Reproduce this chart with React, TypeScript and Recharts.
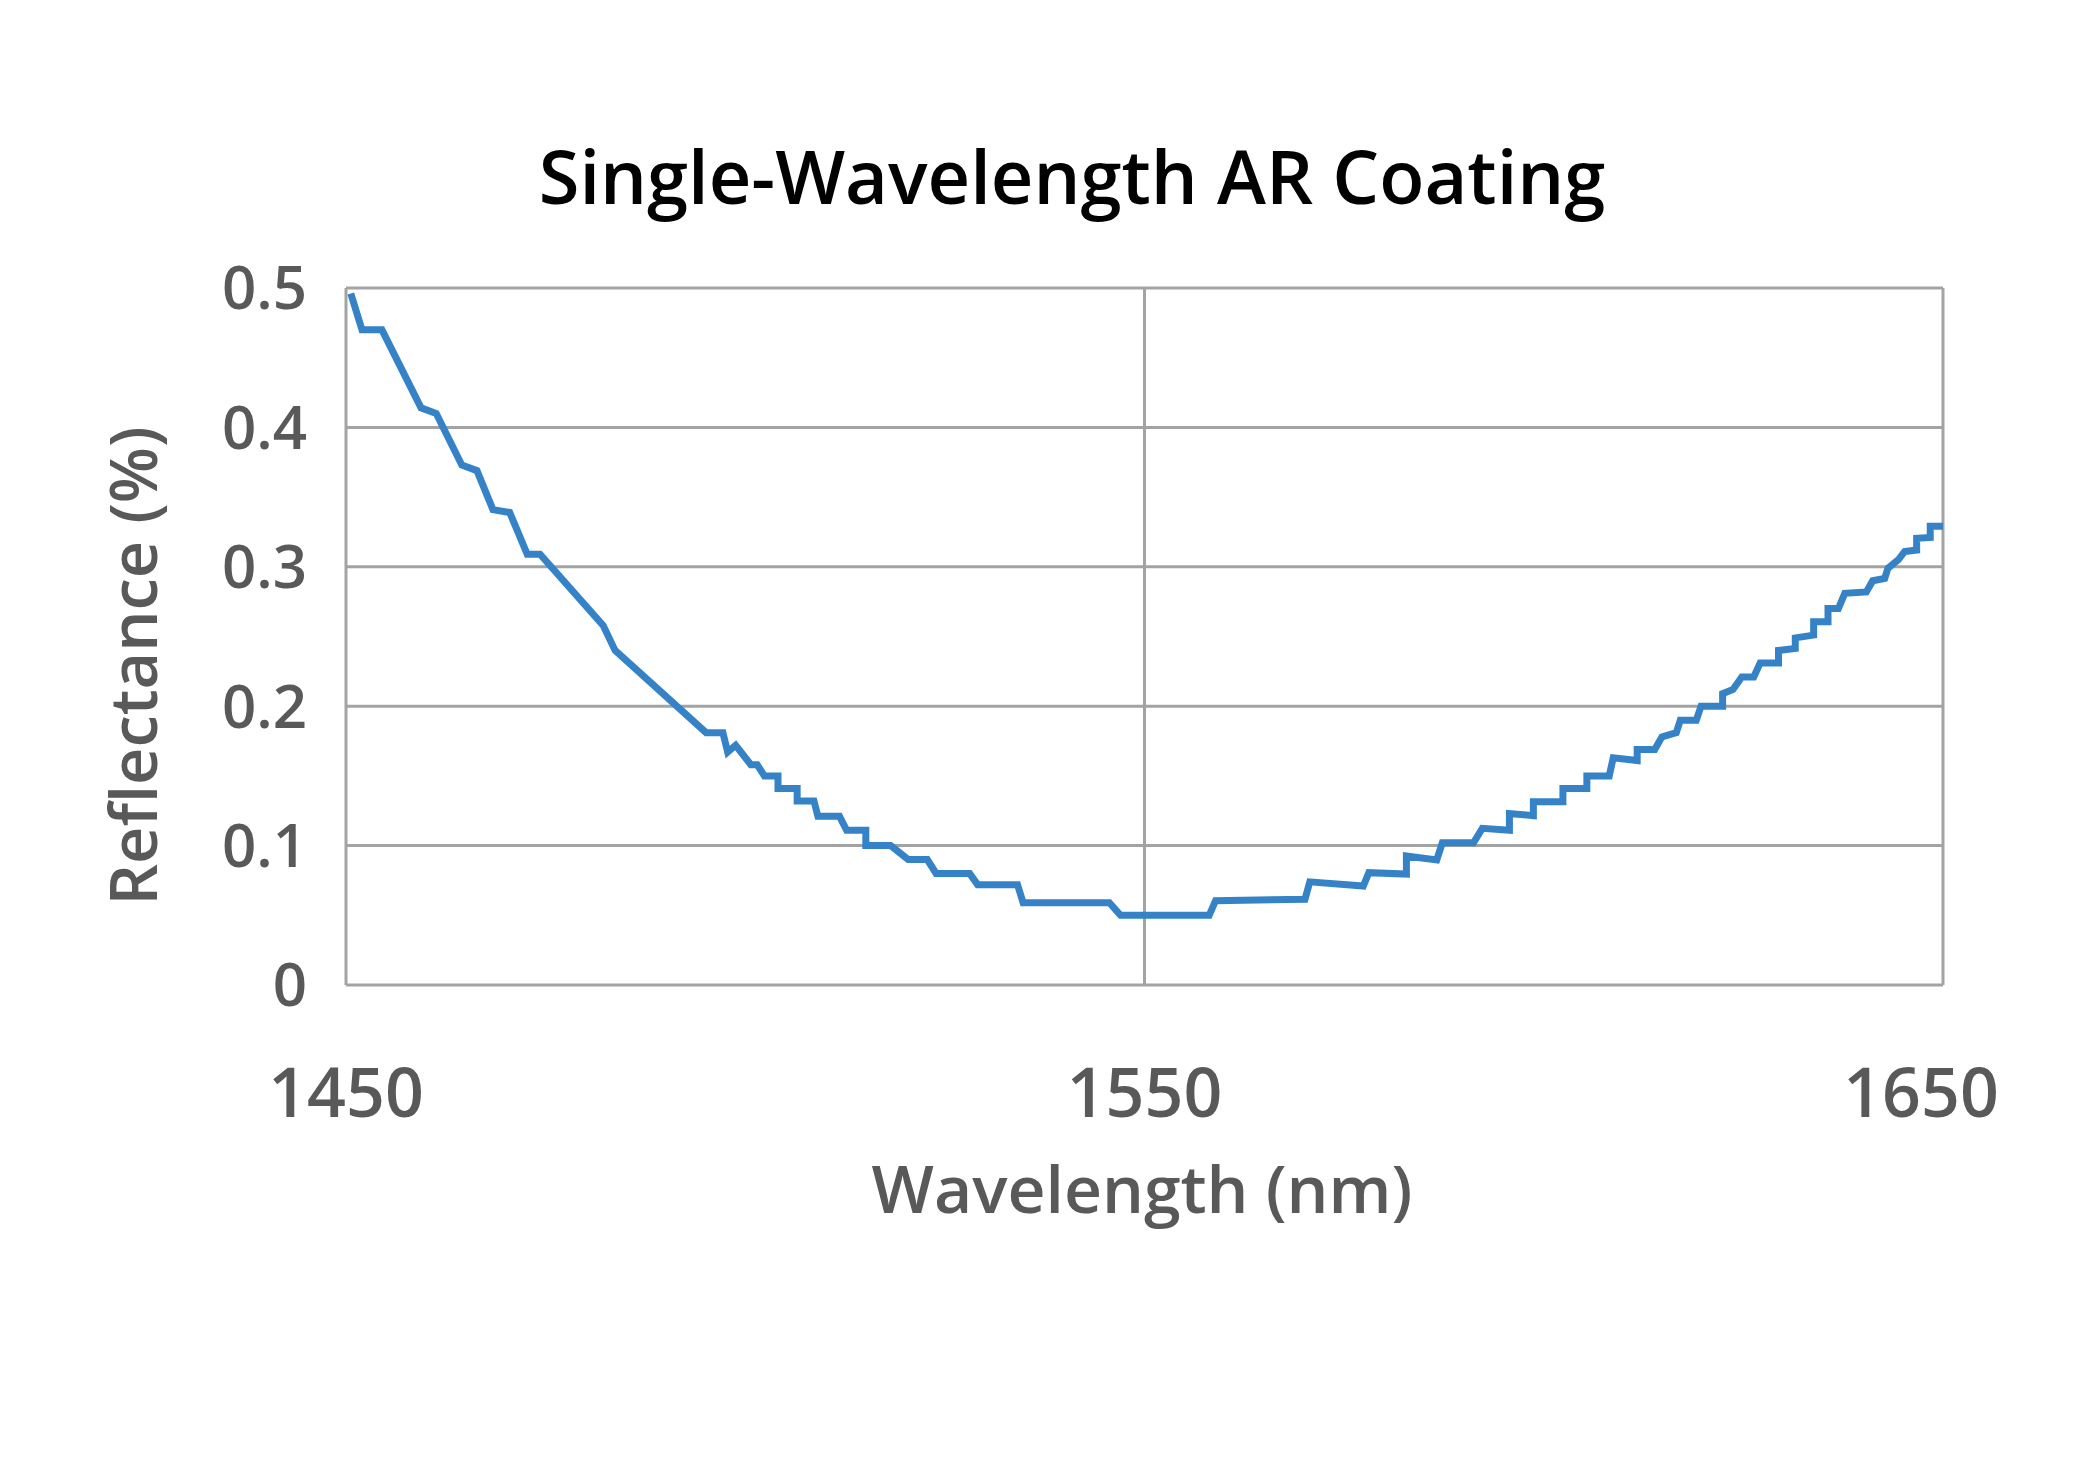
import { CartesianGrid, Line, LineChart, XAxis, YAxis } from "recharts";

// wavelength in nm (repeated x = vertical step)
const wavelength = [
  1450.6, 1452.0, 1454.5, 1459.4, 1461.3, 1464.5, 1466.4, 1468.4, 1470.5, 1472.7,
  1474.3, 1482.2, 1483.7, 1495.1, 1497.2, 1497.8, 1498.8, 1500.7, 1501.5, 1502.4,
  1504.1, 1504.1, 1506.5, 1506.5, 1508.6, 1509.1, 1511.8, 1512.7, 1515.1, 1515.1,
  1518.2, 1520.4, 1522.8, 1523.9, 1528.1, 1529.1, 1534.1, 1534.8, 1545.6, 1547.0,
  1558.1, 1558.9, 1570.1, 1570.7, 1577.4, 1578.1, 1582.8, 1582.8, 1586.6, 1587.3,
  1591.2, 1592.3, 1595.7, 1595.7, 1598.7, 1598.7, 1602.4, 1602.4, 1605.4, 1605.4,
  1608.2, 1608.7, 1611.7, 1611.7, 1613.9, 1614.8, 1616.6, 1617.1, 1619.1, 1619.7,
  1622.4, 1622.4, 1623.7, 1624.8, 1626.3, 1627.1, 1629.4, 1629.4, 1631.5, 1631.5,
  1633.8, 1633.8, 1635.6, 1635.6, 1636.9, 1637.7, 1640.4, 1641.2, 1642.7, 1643.1,
  1644.4, 1645.2, 1646.7, 1646.7, 1648.4, 1648.4, 1650.0,
];

// reflectance in %
const reflectance = [
  0.496, 0.47, 0.47, 0.414, 0.41, 0.373, 0.369, 0.341, 0.339, 0.309,
  0.309, 0.258, 0.24, 0.181, 0.181, 0.167, 0.172, 0.158, 0.158, 0.15,
  0.15, 0.141, 0.141, 0.132, 0.132, 0.121, 0.121, 0.111, 0.111, 0.1,
  0.1, 0.09, 0.09, 0.08, 0.08, 0.072, 0.072, 0.059, 0.059, 0.05,
  0.05, 0.0605, 0.0615, 0.074, 0.071, 0.0806, 0.0796, 0.0925, 0.0897, 0.102,
  0.102, 0.1124, 0.111, 0.123, 0.1215, 0.1315, 0.1315, 0.141, 0.141, 0.15,
  0.15, 0.163, 0.161, 0.169, 0.169, 0.178, 0.181, 0.19, 0.19, 0.2,
  0.2, 0.209, 0.212, 0.221, 0.221, 0.231, 0.231, 0.24, 0.2415, 0.249,
  0.251, 0.2606, 0.2606, 0.27, 0.27, 0.281, 0.282, 0.29, 0.2917, 0.299,
  0.305, 0.311, 0.312, 0.3204, 0.321, 0.329, 0.329,
];

const xTicks = [1450, 1550, 1650];
const yTicks = [0, 0.1, 0.2, 0.3, 0.4, 0.5];

const rows = wavelength.map((w, i) => ({ w, r: reflectance[i] }));

const FONT = "'Open Sans', sans-serif";
const TEXT_GRAY = "#595959";
const GRID = "#a3a3a3";

const XTick = (props: any) => {
  const { x, y, payload } = props;
  // the last label is pulled inward like the original
  const shift = payload.value === 1650 ? -22 : 0;
  return (
    <text
      x={x + shift}
      y={y}
      dy="0.71em"
      textAnchor="middle"
      fill={TEXT_GRAY}
      fontSize={68}
      fontWeight={600}
      fontFamily={FONT}
    >
      {payload.value}
    </text>
  );
};

export default function App() {
  return (
    <div
      style={{
        position: "absolute",
        left: 0,
        top: 0,
        width: 2093,
        height: 1465,
        background: "#fff",
        fontFamily: FONT,
      }}
    >
      <div
        style={{
          position: "absolute",
          left: 1072,
          top: 139,
          transform: "translateX(-50%)",
          whiteSpace: "nowrap",
          fontSize: 74,
          fontWeight: 600,
          lineHeight: 1,
          color: "#000",
        }}
      >
        Single-Wavelength AR Coating
      </div>

      <LineChart
        width={2093}
        height={1465}
        data={rows}
        margin={{ top: 288, right: 150, left: 0, bottom: 280 }}
      >
        <CartesianGrid stroke={GRID} strokeWidth={3} />
        <XAxis
          dataKey="w"
          type="number"
          domain={[1450, 1650]}
          ticks={xTicks}
          height={200}
          tickLine={false}
          axisLine={false}
          tickSize={0}
          tickMargin={84}
          tick={<XTick />}
          interval={0}
        />
        <YAxis
          type="number"
          domain={[0, 0.5]}
          ticks={yTicks}
          width={346}
          tickLine={false}
          axisLine={false}
          tickSize={0}
          tickMargin={39}
          tick={{ fill: TEXT_GRAY, fontSize: 60, fontWeight: 600, fontFamily: FONT }}
          interval={0}
        />
        <Line
          type="linear"
          dataKey="r"
          stroke="#3583c6"
          strokeWidth={7}
          dot={false}
          activeDot={false}
          isAnimationActive={false}
        />
      </LineChart>

      <div
        style={{
          position: "absolute",
          left: 1142,
          top: 1154,
          transform: "translateX(-50%)",
          whiteSpace: "nowrap",
          fontSize: 66,
          fontWeight: 600,
          lineHeight: 1,
          color: TEXT_GRAY,
        }}
      >
        Wavelength (nm)
      </div>

      <div
        style={{
          position: "absolute",
          left: 132,
          top: 666,
          transform: "translate(-50%, -50%) rotate(-90deg)",
          whiteSpace: "nowrap",
          fontSize: 65,
          fontWeight: 600,
          lineHeight: 1,
          color: TEXT_GRAY,
        }}
      >
        Reflectance (%)
      </div>
    </div>
  );
}
